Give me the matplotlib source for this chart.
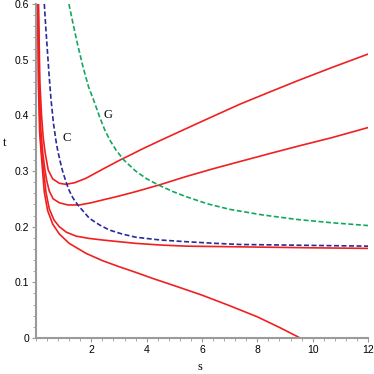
import matplotlib
matplotlib.use("Agg")
import matplotlib.pyplot as plt
from matplotlib.ticker import MultipleLocator

# curvas rojas
red1_s = [0.09, 0.14, 0.2, 0.26, 0.33, 0.44, 0.6, 0.84, 1.08, 1.4, 1.81, 2.4, 3.01, 3.5, 3.86, 4.5, 5.42, 6.3, 7.37, 8.5, 9.5, 10.7, 12]
red1_t = [0.6, 0.46, 0.4, 0.36, 0.333, 0.302, 0.286, 0.278, 0.276, 0.279, 0.287, 0.303, 0.319, 0.331, 0.34, 0.355, 0.376, 0.396, 0.42, 0.443, 0.463, 0.486, 0.51]

red2_s = [0.08, 0.12, 0.18, 0.25, 0.32, 0.39, 0.48, 0.62, 0.84, 1.15, 1.57, 2.0, 2.41, 3.0, 3.61, 4.46, 5.42, 6.4, 7.37, 8.5, 9.5, 10.7, 12]
red2_t = [0.6, 0.45, 0.37, 0.33, 0.303, 0.282, 0.264, 0.25, 0.243, 0.239, 0.239, 0.243, 0.248, 0.255, 0.263, 0.275, 0.29, 0.304, 0.317, 0.332, 0.345, 0.36, 0.378]

red3_s = [0.07, 0.1, 0.15, 0.21, 0.28, 0.36, 0.48, 0.65, 0.84, 1.1, 1.45, 1.9, 2.41, 3.0, 3.61, 4.5, 5.42, 7.0, 8.5, 10.0, 12]
red3_t = [0.6, 0.45, 0.37, 0.33, 0.298, 0.262, 0.232, 0.212, 0.2, 0.19, 0.183, 0.179, 0.176, 0.173, 0.17, 0.167, 0.165, 0.164, 0.163, 0.162, 0.161]

red4_s = [0.06, 0.09, 0.13, 0.19, 0.24, 0.3, 0.42, 0.6, 0.84, 1.2, 1.81, 2.4, 3.01, 3.6, 4.22, 5.0, 6.0, 7.0, 8.0, 8.8, 9.55]
red4_t = [0.6, 0.45, 0.37, 0.33, 0.298, 0.262, 0.229, 0.205, 0.187, 0.17, 0.152, 0.139, 0.128, 0.118, 0.107, 0.094, 0.077, 0.058, 0.038, 0.019, 0.0]

# curva C (azul)
c_s = [0.3, 0.36, 0.42, 0.48, 0.54, 0.63, 0.72, 0.78, 0.87, 0.96, 1.08, 1.2, 1.33, 1.51, 1.93, 2.3, 2.65, 3.1, 3.61, 4.5, 5.42, 6.5, 7.37, 9.0, 10.5, 12]
c_t = [0.6, 0.553, 0.51, 0.468, 0.43, 0.386, 0.355, 0.338, 0.318, 0.3, 0.281, 0.265, 0.252, 0.239, 0.215, 0.203, 0.194, 0.187, 0.181, 0.176, 0.173, 0.17, 0.168, 0.167, 0.166, 0.165]

# curva G (verde)
g_s = [1.19, 1.35, 1.5, 1.7, 1.9, 2.1, 2.3, 2.5, 2.7, 2.9, 3.19, 3.6, 4.0, 4.46, 5.0, 5.42, 6.2, 7.01, 8.2, 9.42, 10.7, 12]
g_t = [0.6, 0.562, 0.528, 0.487, 0.451, 0.425, 0.397, 0.372, 0.353, 0.337, 0.319, 0.3, 0.286, 0.274, 0.262, 0.254, 0.241, 0.231, 0.221, 0.213, 0.207, 0.202]

x_ticks = [2, 4, 6, 8, 10, 12]
y_ticks = [0, 0.1, 0.2, 0.3, 0.4, 0.5, 0.6]
y_labels = ['0', '0.1', '0.2', '0.3', '0.4', '0.5', '0.6']

fig = plt.figure(figsize=(3.74, 3.74), dpi=100)
ax = fig.add_axes([36 / 374, 36 / 374, 332 / 374, 334 / 374])

red = '#f02020'
for s, t in [(red1_s, red1_t), (red2_s, red2_t), (red3_s, red3_t), (red4_s, red4_t)]:
    ax.plot(s, t, color=red, lw=1.2)
ax.plot(c_s, c_t, color='#2a2a9a', lw=1.2, dashes=(3, 1.5))
ax.plot(g_s, g_t, color='#10a860', lw=1.2, dashes=(3, 1.5))

serif = 'Liberation Serif'
ax.text(2.6, 0.4, 'G', family=serif, fontsize=9, ha='center', va='center')
ax.text(1.1, 0.36, 'C', family=serif, fontsize=9, ha='center', va='center')

ax.set_xlim(0, 12)
ax.set_ylim(0, 0.6)
for side in ['top', 'right']:
    ax.spines[side].set_visible(False)
for side in ['left', 'bottom']:
    ax.spines[side].set_color('#9a9a9a')
    ax.spines[side].set_linewidth(1.5)

ax.set_xticks(x_ticks)
ax.set_yticks(y_ticks)
ax.set_yticklabels(y_labels)
ax.xaxis.set_minor_locator(MultipleLocator(0.4))
ax.yaxis.set_minor_locator(MultipleLocator(0.02))
ax.tick_params(which='both', color='#9a9a9a', direction='out', labelsize=7.5, pad=2)
ax.tick_params(which='major', length=3)
ax.tick_params(which='minor', length=2)
for lab in ax.get_xticklabels() + ax.get_yticklabels():
    lab.set_family('Liberation Sans')

ax.set_xlabel('s', family=serif, fontsize=9, va='center')
ax.xaxis.set_label_coords(164 / 332, -29 / 334)
ax.set_ylabel('t', family=serif, fontsize=9, rotation=0, va='center')
ax.yaxis.set_label_coords(-31 / 332, 0.35 / 0.6)

fig.savefig('out.png', dpi=100)
